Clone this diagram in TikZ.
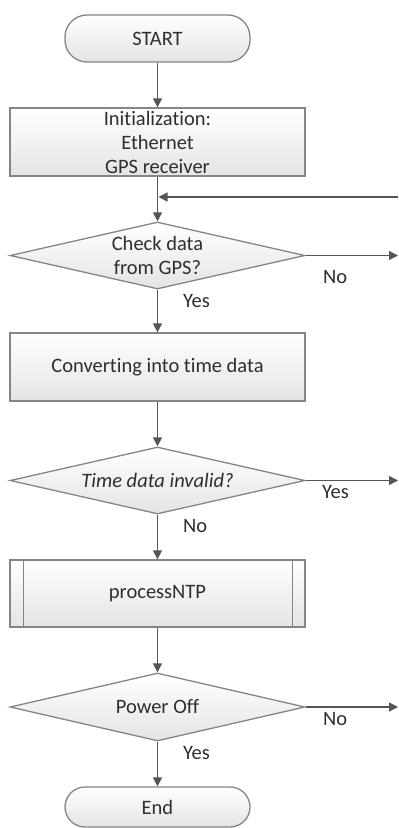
\documentclass[tikz,border=0pt]{standalone}
\usepackage{fontspec}
\setmainfont{Carlito}[Ligatures=CommonOff]
\usetikzlibrary{shapes.geometric,arrows.meta,calc}
\definecolor{linec}{HTML}{858585}
\definecolor{arrc}{HTML}{555555}
\definecolor{txtc}{HTML}{2E2E2E}
\definecolor{fillb}{HTML}{E4E4E4}
\begin{document}
\begin{tikzpicture}[x=1bp,y=-1bp,
  font=\fontsize{20.5bp}{24bp}\selectfont, text=txtc,
  shapebox/.style={draw=linec, line width=1.3bp, top color=white, bottom color=fillb, inner sep=0pt},
  procbox/.style={shapebox, rectangle, minimum width=295bp, minimum height=68bp, align=center},
  termbox/.style={shapebox, rectangle, rounded corners=22bp, minimum width=185bp, minimum height=47bp},
  decbox/.style={shapebox, diamond, minimum width=295bp, minimum height=67bp, aspect=4.4},
  txt/.style={inner sep=0pt, align=center},
  lbl/.style={inner sep=0pt, anchor=base west},
  arr/.style={draw=arrc, line width=1.3bp, -{Triangle[length=9bp,width=9bp]}},
]
\useasboundingbox (0,0) rectangle (398,828);

\node[termbox] (start) at (157.5,38.5) {START};
\node[procbox] (init) at (157.5,142) {Initialization:\\Ethernet\\GPS receiver};
\node[decbox] (d1) at (157.5,255.5) {};
\node[txt] (d1t) at (157.5,255.5) {Check data\\from GPS?};
\node[procbox] (conv) at (157.5,367) {Converting into time data};
\node[decbox] (d2) at (157.5,480.5) {};
\node[txt] (d2t) at (157.5,480.5) {\itshape Time data invalid?};
\node[procbox, minimum height=67bp] (proc) at (157.5,593.5) {processNTP};
\draw[linec, line width=1.3bp] ($(proc.north west)+(14,0)$) -- ($(proc.south west)+(14,0)$);
\draw[linec, line width=1.3bp] ($(proc.north east)+(-13,0)$) -- ($(proc.south east)+(-13,0)$);
\node[decbox, minimum height=68bp] (d3) at (157.5,707) {};
\node[txt] (d3t) at (157.5,707) {Power Off};
\node[termbox, minimum height=40bp, rounded corners=20bp] (end) at (157.5,807) {End};

\coordinate (fbR) at (398,197);
\coordinate (fbM) at (158.5,197);
\coordinate (o1) at (398,255.5);
\coordinate (o2) at (398,480.5);
\coordinate (o3) at (398,707);

\draw[arr] (start) -- (init);
\draw[arr] (init) -- (d1);
\draw[arr] (fbR) -- (fbM);
\draw[arr] (d1) -- (conv);
\draw[arr] (d1.east) -- (o1);
\draw[arr] (conv) -- (d2);
\draw[arr] (d2.east) -- (o2);
\draw[arr] (d2) -- (proc);
\draw[arr] (proc) -- (d3);
\draw[arr] (d3.east) -- (o3);
\draw[arr] (d3) -- (end);

\node[lbl] (l1) at (323,283) {No};
\node[lbl] (l2) at (183,307) {Yes};
\node[lbl] (l3) at (322,498) {Yes};
\node[lbl] (l4) at (183,532) {No};
\node[lbl] (l5) at (323,725) {No};
\node[lbl] (l6) at (183,759) {Yes};
\end{tikzpicture}
\end{document}
